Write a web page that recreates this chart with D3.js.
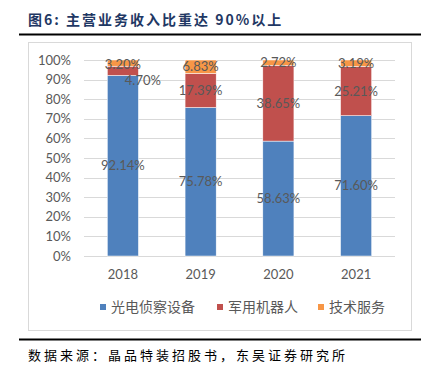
<!DOCTYPE html>
<html>
<head>
<meta charset="utf-8">
<script src="https://cdn.jsdelivr.net/npm/d3@7"></script>
<style>
  body { margin: 0; background: #fff; }
  svg { display: block; }
</style>
</head>
<body>
<div id="chart"></div>
<script>
// data
const years = ['2018', '2019', '2020', '2021'];
const seriesNames = ['光电侦察设备', '军用机器人', '技术服务'];
const optoelectronic = [92.14, 75.78, 58.63, 71.60];
const robots = [4.70, 17.39, 38.65, 25.21];
const services = [3.20, 6.83, 2.72, 3.19];
const yTicks = [0, 10, 20, 30, 40, 50, 60, 70, 80, 90, 100];

const colors = ['#4F81BD', '#C0504D', '#F79646'];
const W = 427, H = 372;
const plot = {l: 84, r: 395, t: 60, b: 256};

const svg = d3.select('#chart').append('svg')
  .attr('width', W)
  .attr('height', H);

// title + rules
svg.append('text')
  .attr('x', 28).attr('y', 25)
  .attr('fill', '#1F3864')
  .style('font-family', '"Noto Sans CJK SC", sans-serif')
  .style('font-weight', 'bold')
  .style('font-size', '14px')
  .style('letter-spacing', '2px')
  .text('图6:  主营业务收入比重达 90%以上');

svg.append('line')
  .attr('x1', 19).attr('x2', 421).attr('y1', 34.5).attr('y2', 34.5)
  .attr('stroke', '#000').attr('stroke-width', 2);
svg.append('line')
  .attr('x1', 19).attr('x2', 421).attr('y1', 339.5).attr('y2', 339.5)
  .attr('stroke', '#000').attr('stroke-width', 2);

// chart frame
svg.append('rect')
  .attr('x', 28.5).attr('y', 42.5)
  .attr('width', 383).attr('height', 288)
  .attr('fill', '#fff')
  .attr('stroke', '#D9D9D9');

// scales
const x = d3.scaleBand()
  .domain(years)
  .range([plot.l, plot.r])
  .paddingInner(0.6)
  .paddingOuter(0.3);
const y = d3.scaleLinear()
  .domain([0, 100])
  .range([plot.b, plot.t]);

// gridlines
svg.append('g')
  .selectAll('line')
  .data(yTicks)
  .join('line')
  .attr('x1', plot.l).attr('x2', plot.r)
  .attr('y1', d => Math.round(y(d)) + 0.5)
  .attr('y2', d => Math.round(y(d)) + 0.5)
  .attr('stroke', '#D9D9D9');

// y axis labels
const axisY = d3.axisLeft(y)
  .tickValues(yTicks)
  .tickFormat(d => d + '%')
  .tickSize(0)
  .tickPadding(13);
const gy = svg.append('g')
  .attr('transform', `translate(${plot.l},0)`)
  .call(axisY);
gy.select('.domain').remove();
gy.selectAll('text')
  .attr('fill', '#595959')
  .style('font-family', 'Lato, "Open Sans", sans-serif')
  .style('font-size', '13px');

// x axis labels
const axisX = d3.axisBottom(x).tickSize(0).tickPadding(14);
const gx = svg.append('g')
  .attr('transform', `translate(0,${plot.b})`)
  .call(axisX);
gx.select('.domain').remove();
gx.selectAll('text')
  .attr('fill', '#595959')
  .style('font-family', 'Lato, "Open Sans", sans-serif')
  .style('font-size', '13px');

// stacked bars
const table = years.map((yr, i) => ({
  year: yr,
  a: optoelectronic[i],
  b: robots[i],
  c: services[i]
}));
const stack = d3.stack().keys(['a', 'b', 'c']);
const layers = stack(table);

const layerG = svg.append('g')
  .selectAll('g')
  .data(layers)
  .join('g')
  .attr('fill', (d, i) => colors[i]);

layerG.selectAll('rect')
  .data(d => d)
  .join('rect')
  .attr('x', d => x(d.data.year))
  .attr('width', x.bandwidth())
  .attr('y', d => y(Math.min(d[1], 100)))
  .attr('height', d => y(d[0]) - y(Math.min(d[1], 100)))
  .attr('stroke', '#fff')
  .attr('stroke-width', 0.5);

// data labels (the 2018 robot label sits off to the right in the original)
const labelG = svg.append('g')
  .style('font-family', 'Lato, "Open Sans", sans-serif')
  .style('font-size', '13px')
  .attr('fill', '#595959')
  .attr('text-anchor', 'middle');

layers.forEach((layer, li) => {
  layer.forEach((d, i) => {
    let cx = x(d.data.year) + x.bandwidth() / 2;
    let cy = y((d[0] + Math.min(d[1], 100)) / 2);
    if (li === 1 && i === 0) { cx += 20; cy = y(89.5); }
    if (li === 2 && i === 0) { cy = y(97.5); }
    labelG.append('text')
      .attr('x', cx)
      .attr('y', cy)
      .attr('dy', '0.35em')
      .text(d3.format('.2f')(d.data[layer.key]) + '%');
  });
});

// legend
const legendX = [100, 217, 318];
const legend = svg.append('g')
  .selectAll('g')
  .data(seriesNames)
  .join('g')
  .attr('transform', (d, i) => `translate(${legendX[i]},307)`);
legend.append('rect')
  .attr('x', 0).attr('y', -3)
  .attr('width', 6).attr('height', 6)
  .attr('fill', (d, i) => colors[i]);
legend.append('text')
  .attr('x', 11)
  .attr('dy', '0.36em')
  .attr('fill', '#595959')
  .style('font-family', '"Noto Sans CJK SC", sans-serif')
  .style('font-size', '14px')
  .text(d => d);

// source note
svg.append('text')
  .attr('x', 28).attr('y', 360)
  .attr('fill', '#000')
  .style('font-family', '"Noto Sans CJK SC", sans-serif')
  .style('font-size', '13px')
  .style('letter-spacing', '3px')
  .text('数据来源：晶品特装招股书，东吴证券研究所');
</script>
</body>
</html>
